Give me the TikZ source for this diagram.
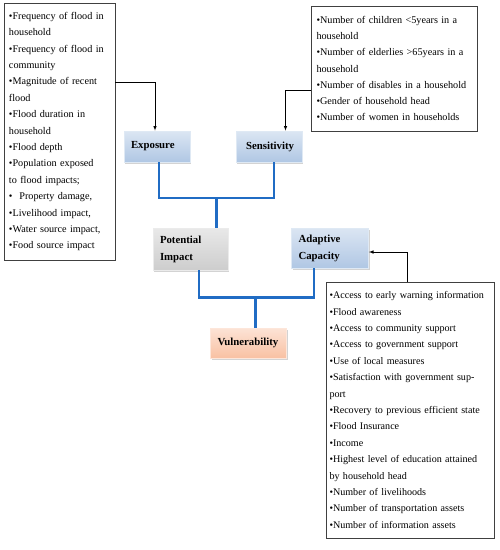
\documentclass[tikz,border=0pt]{standalone}
\usepackage{fontspec}
\setmainfont{Liberation Serif}
\usepackage{tikz}
\usetikzlibrary{shadows}

\definecolor{factorblue}{RGB}{176,199,228}
\definecolor{factorgray}{RGB}{205,205,205}
\definecolor{factororange}{RGB}{249,193,163}
\definecolor{linkblue}{RGB}{32,108,196}

\begin{document}
\begin{tikzpicture}[x=1pt,y=-1pt,
  listbox/.style={draw=black!75,line width=0.7pt,align=left,inner xsep=5pt,
                  font=\fontsize{10.2}{16.4}\selectfont},
  factor/.style={align=left,inner xsep=7pt,inner ysep=0pt,
                 font=\fontsize{10.8}{17}\selectfont\bfseries,
                 draw=white!60!#1,line width=0.8pt,
                 top color=white!55!#1,bottom color=#1,
                 drop shadow={opacity=0.35,shadow xshift=1.2pt,shadow yshift=-1.5pt}},
  link/.style={linkblue,line width=2.4pt},
  pointer/.style={-latex,black,line width=0.6pt}]
%\draw[help lines] (0,0) grid (500,550);
\useasboundingbox (0,0) rectangle (500,550);

% lists of indicators
\node[listbox,text width=101pt,minimum height=257pt] (exptext) at (59.5,131.5)
  {\textbullet Frequency of flood in\\ household\\
   \textbullet Frequency of flood in\\ community\\
   \textbullet Magnitude of recent\\ flood\\
   \textbullet Flood duration in\\ household\\
   \textbullet Flood depth\\
   \textbullet Population exposed\\ to flood impacts;\\
   \textbullet\ \ Property damage,\\
   \textbullet Livelihood impact,\\
   \textbullet Water source impact,\\
   \textbullet Food source impact};

\node[listbox,font=\fontsize{10.2}{16.3}\selectfont,text width=156pt,minimum height=125pt]
  (senstext) at (394.5,68.5)
  {\textbullet Number of children <5years in a\\ household\\
   \textbullet Number of elderlies >65years in a\\ household\\
   \textbullet Number of disables in a household\\
   \textbullet Gender of household head\\
   \textbullet Number of women in households};

\node[listbox,font=\fontsize{10.1}{16.4}\selectfont,inner xsep=3.5pt,text width=161pt,minimum height=256pt]
  (adaptext) at (410,410)
  {\textbullet Access to early warning information\\
   \textbullet Flood awareness\\
   \textbullet Access to community support\\
   \textbullet Access to government support\\
   \textbullet Use of local measures\\
   \textbullet Satisfaction with government sup-\\ port\\
   \textbullet Recovery to previous efficient state\\
   \textbullet Flood Insurance\\
   \textbullet Income\\
   \textbullet Highest level of education attained\\ by household head\\
   \textbullet Number of livelihoods\\
   \textbullet Number of transportation assets\\
   \textbullet Number of information assets};

% the components
\node[factor=factorblue,text width=52pt,minimum height=31pt] (exposure) at (157,146.5) {Exposure};
\node[factor=factorblue,text width=52pt,minimum height=31pt] (sensitivity) at (269,146.5) {\hspace*{3pt}Sensitivity};
\node[factor=factorgray,text width=61pt,minimum height=42pt] (impact) at (190.5,249) {Potential\\ Impact};
\node[factor=factorblue,text width=63pt,minimum height=40pt] (adaptive) at (330,248) {Adaptive\\ Capacity};
\node[factor=factororange,text width=62pt,minimum height=30pt] (vulner) at (248.5,343) {Vulnerability};

% blue links
\coordinate (joinone) at (216.5,198);
\coordinate (jointwo) at (255.5,297.5);
\draw[link] ([xshift=2pt]exposure.south) |- (joinone) -| ([xshift=5pt]sensitivity.south);
\draw[link] (joinone) -- (joinone |- impact.north);
\draw[link] ([xshift=8.5pt]impact.south) |- (jointwo) -| ([xshift=-16pt]adaptive.south);
\draw[link] (jointwo) -- (jointwo |- vulner.north);

% arrows from the lists
\draw[pointer] ([yshift=49.5pt]exptext.east) -| ([xshift=-2pt]exposure.north);
\draw[pointer] ([yshift=-22pt]senstext.west) -| ([xshift=16.5pt]sensitivity.north);
\draw[pointer] ([xshift=-3pt]adaptext.north) |- ([yshift=-4pt]adaptive.east);
\end{tikzpicture}
\end{document}
